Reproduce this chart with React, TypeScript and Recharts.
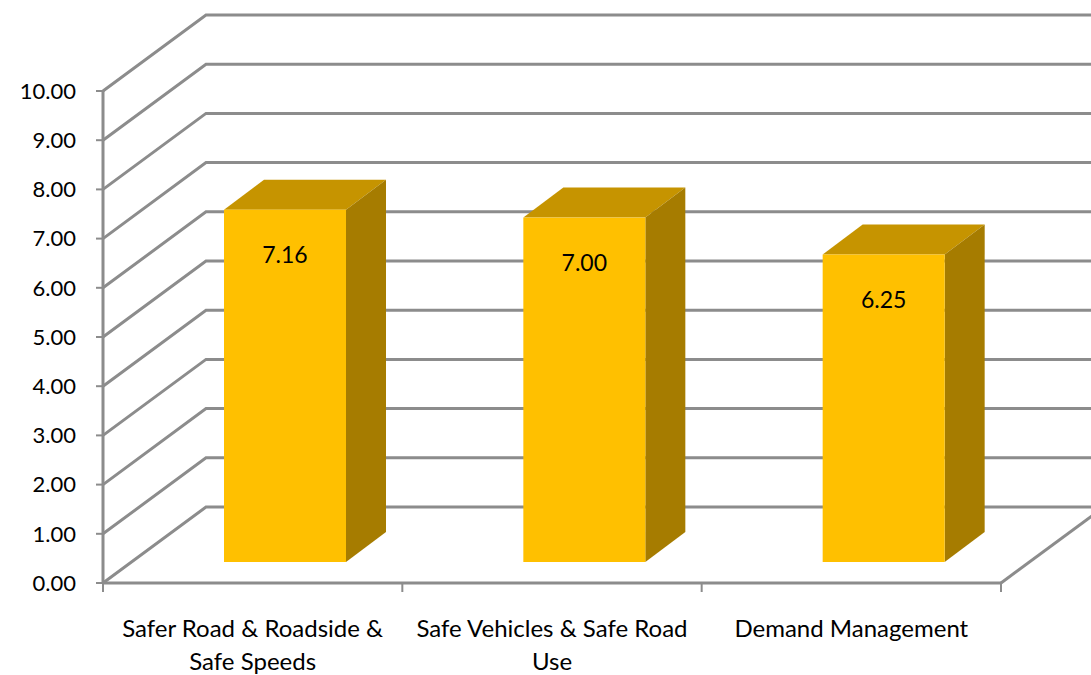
import { Bar, BarChart, CartesianGrid, LabelList, XAxis, YAxis } from "recharts";

const CATEGORIES = [
  "Safer Road & Roadside & Safe Speeds",
  "Safe Vehicles & Safe Road Use",
  "Demand Management",
];
const CATEGORY_LINES = [
  ["Safer Road & Roadside &", "Safe Speeds"],
  ["Safe Vehicles & Safe Road", "Use"],
  ["Demand Management"],
];
const SCORES = [7.16, 7.0, 6.25];
const Y_TICKS = [0, 1, 2, 3, 4, 5, 6, 7, 8, 9, 10];

const data = CATEGORIES.map((name, i) => ({ name, value: SCORES[i] }));

const FONT = "Lato, 'Open Sans', sans-serif";
const GRID = "#8c8c8c";
// depth of the back wall and of each bar
const WALL_DX = 103;
const WALL_DY = 76;
const BAR_SHIFT_X = 32;
const BAR_SHIFT_Y = 21;
const BAR_DX = 40;
const BAR_DY = 30;

function GridLine(props: any) {
  const { x1, x2, y1, y, height } = props;
  const isFloor = y != null && height != null && Math.abs(y1 - (y + height)) < 1;
  const bx = x1 + WALL_DX;
  const by = y1 - WALL_DY;
  return (
    <g>
      <polyline
        points={`${x1},${y1} ${bx},${by} ${bx + (x2 - x1) + 40},${by}`}
        fill="none"
        stroke={GRID}
        strokeWidth={3}
      />
      {isFloor && (
        <line x1={x2} y1={y1} x2={x2 + WALL_DX} y2={by} stroke={GRID} strokeWidth={3} />
      )}
    </g>
  );
}

function Bar3D(props: any) {
  const { x, y, width, height } = props;
  const fx = x + BAR_SHIFT_X;
  const fy = y - BAR_SHIFT_Y;
  return (
    <g>
      <polygon
        points={`${fx},${fy} ${fx + width},${fy} ${fx + width + BAR_DX},${fy - BAR_DY} ${fx + BAR_DX},${fy - BAR_DY}`}
        fill="#c69400"
      />
      <polygon
        points={`${fx + width},${fy} ${fx + width + BAR_DX},${fy - BAR_DY} ${fx + width + BAR_DX},${fy + height - BAR_DY} ${fx + width},${fy + height}`}
        fill="#a67c00"
      />
      <rect x={fx} y={fy} width={width} height={height} fill="#ffc000" />
    </g>
  );
}

function BarLabel(props: any) {
  const { x, y, width, value } = props;
  return (
    <text
      x={x + BAR_SHIFT_X + width / 2}
      y={y - BAR_SHIFT_Y + 44}
      textAnchor="middle"
      dominantBaseline="central"
      fontFamily={FONT}
      fontSize={23}
      fill="#000"
    >
      {Number(value).toFixed(2)}
    </text>
  );
}

function CategoryTick(props: any) {
  const { x, y, payload, index, visibleTicksCount } = props;
  const half = payload.offset ?? 150;
  const lines = CATEGORY_LINES[index] || [payload.value];
  const last = index === (visibleTicksCount ?? CATEGORIES.length) - 1;
  return (
    <g>
      <line x1={x - half} y1={y - 8} x2={x - half} y2={y + 1} stroke={GRID} strokeWidth={2} />
      {last && <line x1={x + half} y1={y - 8} x2={x + half} y2={y + 1} stroke={GRID} strokeWidth={2} />}
      {lines.map((line: string, i: number) => (
        <text
          key={i}
          x={x}
          y={y + 36 + i * 33}
          textAnchor="middle"
          dominantBaseline="central"
          fontFamily={FONT}
          fontSize={24}
          fill="#000"
        >
          {line}
        </text>
      ))}
    </g>
  );
}

export default function App() {
  return (
    <div style={{ position: "absolute", left: 0, top: 0, background: "#fff" }}>
      <BarChart
        width={1091}
        height={675}
        data={data}
        margin={{ top: 91, right: 90, bottom: 0, left: 0 }}
      >
        <CartesianGrid vertical={false} horizontal={GridLine} />
        <XAxis
          dataKey="name"
          height={92}
          axisLine={{ stroke: GRID, strokeWidth: 3 }}
          tickLine={false}
          tick={CategoryTick}
          interval={0}
        />
        <YAxis
          width={103}
          domain={[0, 10]}
          ticks={Y_TICKS}
          interval={0}
          axisLine={{ stroke: GRID, strokeWidth: 3 }}
          tickLine={{ stroke: GRID, strokeWidth: 2 }}
          tickSize={7}
          tickMargin={20}
          tickFormatter={(v) => Number(v).toFixed(2)}
          tick={{ fill: "#000", fontSize: 22, fontFamily: FONT }}
        />
        <Bar dataKey="value" barSize={122} shape={Bar3D} isAnimationActive={false}>
          <LabelList dataKey="value" content={BarLabel} />
        </Bar>
      </BarChart>
    </div>
  );
}
